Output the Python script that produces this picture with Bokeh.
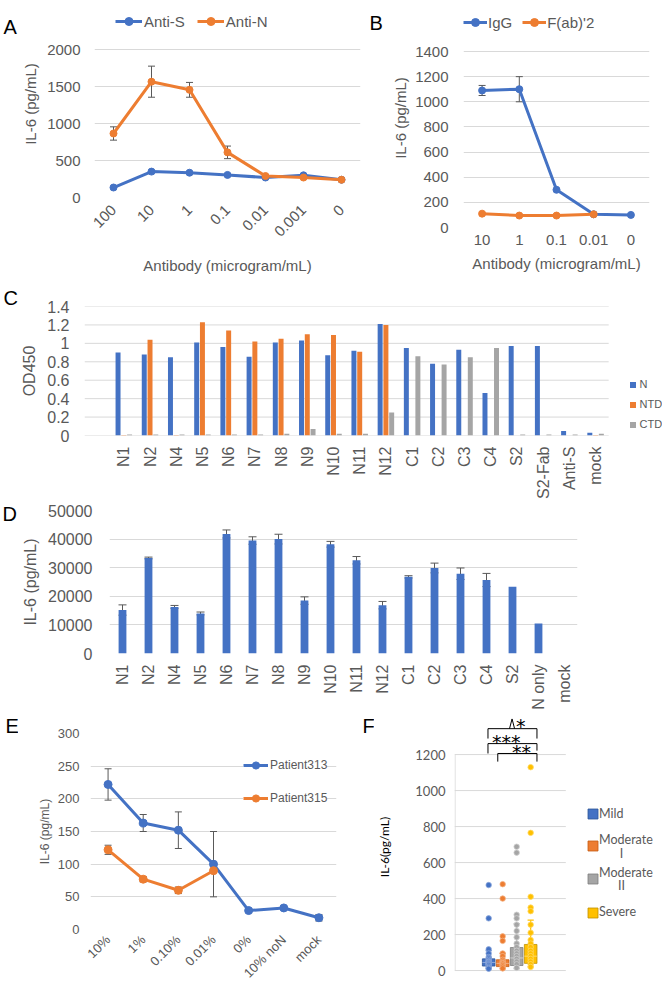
import math
from bokeh.plotting import figure
from bokeh.layouts import column, row
from bokeh.models import (ColumnDataSource, FixedTicker, Range1d, Legend, LegendItem, Label,
                          Whisker, TeeHead, NumeralTickFormatter)
from bokeh.embed import file_html
from bokeh.resources import INLINE

NAN = float("nan")

# ---------------- data ----------------
a_conc = ["100", "10", "1", "0.1", "0.01", "0.001", "0"]
a_anti_s = [135, 350, 335, 305, 270, 300, 240]
a_anti_n = [865, 1565, 1455, 610, 290, 270, 240]
a_anti_n_err = [90, 210, 100, 85, 0, 0, 0]
a_yticks = [0, 500, 1000, 1500, 2000]

b_conc = ["10", "1", "0.1", "0.01", "0"]
b_igg = [1090, 1100, 300, 105, 100]
b_igg_err = [40, 100, 0, 0, 0]
b_fab2 = [110, 95, 95, 105]
b_yticks = [0, 200, 400, 600, 800, 1000, 1200, 1400]

c_samples = ["N1", "N2", "N4", "N5", "N6", "N7", "N8", "N9", "N10", "N11", "N12",
             "C1", "C2", "C3", "C4", "S2", "S2-Fab", "Anti-S", "mock"]
c_n = [0.90, 0.88, 0.85, 1.01, 0.96, 0.855, 1.01, 1.03, 0.87, 0.92, 1.21,
       0.95, 0.78, 0.93, 0.46, 0.97, 0.97, 0.05, 0.03]
c_ntd = [0.005, 1.04, 0.005, 1.23, 1.14, 1.02, 1.05, 1.10, 1.09, 0.91, 1.20,
         0, 0, 0, 0, 0, 0, 0, 0.005]
c_ctd = [0.01, 0.01, 0.01, 0.01, 0.01, 0.01, 0.02, 0.07, 0.02, 0.02, 0.25,
         0.86, 0.77, 0.85, 0.95, 0.01, 0.01, 0.01, 0.02]
c_yticks = [0, 0.2, 0.4, 0.6, 0.8, 1.0, 1.2, 1.4]

d_samples = ["N1", "N2", "N4", "N5", "N6", "N7", "N8", "N9", "N10", "N11", "N12",
             "C1", "C2", "C3", "C4", "S2", "N only", "mock"]
d_il6 = [15200, 33400, 16300, 14000, 41800, 39500, 40000, 18500, 38200, 32600, 16900,
         26800, 29900, 27900, 25700, 23300, 10500, 0]
d_err = [1800, 300, 500, 500, 1400, 1300, 1700, 1300, 1000, 1300, 1300,
         400, 1700, 2000, 2300, 0, 0, 0]
d_yticks = [0, 10000, 20000, 30000, 40000, 50000]

e_conc = ["10%", "1%", "0.10%", "0.01%", "0%", "10% noN", "mock"]
e_p313 = [222, 163, 152, 100, 29, 33, 18]
e_p313_err = [24, 13, 28, 50, 2, 2, 5]
e_p315 = [122, 77, 60, 90]
e_p315_err = [7, 4, 5, 0]
e_yticks = [0, 50, 100, 150, 200, 250, 300]

f_groups = ["Mild", "Moderate I", "Moderate II", "Severe"]
f_q1 = [25, 22, 28, 40]
f_med = [45, 40, 70, 80]
f_q3 = [65, 60, 128, 145]
f_wlo = [10, 10, 10, 20]
f_whi = [110, 95, 260, 280]
f_points = [
    [475, 290, 118, 95, 75, 68, 60, 52, 48, 45, 40, 35, 30, 22, 15, 10],
    [480, 400, 190, 165, 95, 80, 60, 50, 42, 38, 30, 22, 12],
    [688, 655, 310, 290, 255, 220, 185, 150, 130, 110, 95, 80, 65, 50, 35, 15],
    [1130, 765, 410, 350, 330, 255, 210, 170, 150, 130, 110, 95, 80, 65, 50, 35, 20],
]
f_yticks = [0, 200, 400, 600, 800, 1000, 1200]
# significance brackets: (left, right, level, end_left, end_right, stars, star_x, star_level)
f_brackets = [
    (0.95, 4.45, 1344, 1289, 1289, "*", 3.30, 1367),
    (0.95, 4.45, 1261, 1206, 1222, "***", 2.26, 1278),
    (1.65, 4.45, 1206, 1161, 1161, "**", 3.34, 1222),
]
f_brace_x = 2.67
f_brace_top = 1398

# ---------------- style ----------------
TXT = "#595959"
GRID = "#D9D9D9"
BLUE = "#4472C4"
ORANGE = "#ED7D31"
GRAY = "#A5A5A5"
GOLD = "#FFC000"
FONT = "Liberation Sans"


def mkfig(x0, x1, y0, y1, fl, fr, ft, fb, xr, yr):
    p = figure(width=x1 - x0, height=y1 - y0,
               x_range=Range1d(*xr), y_range=Range1d(*yr),
               min_border_left=fl - x0, min_border_right=x1 - fr,
               min_border_top=ft - y0, min_border_bottom=y1 - fb,
               output_backend="svg", toolbar_location=None, tools="")
    p.frame_align = False
    p.outline_line_color = None
    p.xgrid.grid_line_color = None
    p.ygrid.grid_line_color = GRID
    for ax in p.axis:
        ax.axis_line_color = None
        ax.major_tick_line_color = None
        ax.minor_tick_line_color = None
        ax.major_tick_out = 0
        ax.major_tick_in = 0
        ax.minor_tick_out = 0
        ax.minor_tick_in = 0
        ax.axis_label_text_font_style = "normal"
        ax.axis_label_text_color = TXT
        ax.major_label_text_color = TXT
    return p


def letter_fig(txt, w, h, lx, ly):
    p = figure(width=w, height=h, x_range=Range1d(0, w), y_range=Range1d(0, h),
               x_axis_type=None, y_axis_type=None, min_border=0,
               min_border_left=0, min_border_right=0, min_border_top=0, min_border_bottom=0,
               output_backend="svg", toolbar_location=None, tools="")
    p.frame_align = False
    p.outline_line_color = None
    p.add_layout(Label(x=lx, y=h - ly, text=txt, text_font=FONT, text_font_size="20px",
                       text_color="black", text_align="left", text_baseline="middle"))
    return p


def ext_top(top_val, px_top_tick, px_zero, px_frame_top):
    return top_val + (px_top_tick - px_frame_top) * top_val / (px_zero - px_top_tick)


def fonts(p, font, tick_fs, lab_fs):
    for ax in p.axis:
        ax.major_label_text_font = font
        ax.major_label_text_font_size = tick_fs
        ax.axis_label_text_font = font
        ax.axis_label_text_font_size = lab_fs


def yticks(p, ticks, fmt="0"):
    t = FixedTicker(ticks=ticks)
    p.yaxis.ticker = t
    p.ygrid.ticker = t
    p.yaxis.formatter = NumeralTickFormatter(format=fmt)


def manual_grid(p, ticks, x0, x1):
    p.ygrid.grid_line_color = None
    p.segment(x0=[x0] * len(ticks), y0=ticks, x1=[x1] * len(ticks), y1=ticks,
              line_color=GRID, line_width=1, level="underlay")


def xcats(p, names):
    p.xaxis.ticker = FixedTicker(ticks=list(range(len(names))))
    p.xaxis.major_label_overrides = {i: s for i, s in enumerate(names)}


def errbars(p, xs, ys, es, head=7):
    idx = [i for i, e in enumerate(es) if e > 0]
    src = ColumnDataSource(dict(x=[xs[i] for i in idx],
                                lo=[ys[i] - es[i] for i in idx],
                                hi=[ys[i] + es[i] for i in idx]))
    w = Whisker(base="x", lower="lo", upper="hi", source=src, line_color=TXT, line_width=1,
                upper_head=TeeHead(size=head, line_color=TXT, line_width=1),
                lower_head=TeeHead(size=head, line_color=TXT, line_width=1))
    p.add_layout(w)


def legend(p, items, loc, orient, gw, gh, spacing, standoff, fs, font=FONT, bg=None):
    lg = Legend(items=[LegendItem(label=l, renderers=r) for l, r in items],
                location=loc, orientation=orient,
                glyph_width=gw, glyph_height=gh, label_height=gh, label_width=1,
                spacing=spacing, label_standoff=standoff, padding=0, margin=0,
                border_line_color=None, label_text_font=font,
                label_text_font_size=fs, label_text_color=TXT)
    if bg:
        lg.background_fill_color = bg
        lg.background_fill_alpha = 1
    else:
        lg.background_fill_alpha = 0
    p.add_layout(lg, "center")
    return lg


def key_square(p, color, line=None):
    # legend key only (no visible point): square marker like the spreadsheet legend
    return p.scatter([NAN], [NAN], marker="square", fill_color=color,
                     line_color=line, line_width=0.8)


# ---------------- Panel A ----------------
xa = list(range(len(a_conc)))
pA = mkfig(18, 362, 0, 288, 94, 360, 10, 197, (-0.5, len(a_conc) - 0.5),
           (0, ext_top(a_yticks[-1], 49, 197, 10)))
yticks(pA, a_yticks)
xcats(pA, a_conc)
pA.xaxis.major_label_orientation = math.pi / 4
pA.yaxis.axis_label = "IL-6 (pg/mL)"
pA.xaxis.axis_label = "Antibody (microgram/mL)"
fonts(pA, FONT, "15px", "15px")
pA.yaxis.major_label_standoff = 14
pA.yaxis.axis_label_standoff = 5
pA.xaxis.major_label_standoff = 10
pA.xaxis.axis_label_standoff = 13
ls = pA.line(xa, a_anti_s, line_color=BLUE, line_width=3)
ss = pA.scatter(xa, a_anti_s, size=7, fill_color=BLUE, line_color=BLUE)
ln = pA.line(xa, a_anti_n, line_color=ORANGE, line_width=3)
sn = pA.scatter(xa, a_anti_n, size=7, fill_color=ORANGE, line_color=ORANGE)
errbars(pA, xa, a_anti_n, a_anti_n_err)
legend(pA, [("Anti-S", [ls, ss]), ("Anti-N", [ln, sn])],
       (115 - 94, 197 - 31), "horizontal", 27, 20, 12, 2, "15px")
LA = letter_fig("A", 18, 288, 3, 26)

# ---------------- Panel B ----------------
xb = list(range(len(b_conc)))
pB = mkfig(386, 662, 0, 288, 463, 649, 8, 227, (-0.5, len(b_conc) - 0.5),
           (0, ext_top(b_yticks[-1], 51, 227, 8)))
yticks(pB, b_yticks)
xcats(pB, b_conc)
pB.yaxis.axis_label = "IL-6 (pg/mL)"
pB.xaxis.axis_label = "Antibody (microgram/mL)"
fonts(pB, FONT, "15px", "15px")
pB.yaxis.major_label_standoff = 15
pB.yaxis.axis_label_standoff = 3
pB.xaxis.major_label_standoff = 7
pB.xaxis.axis_label_standoff = 7
lg_ = pB.line(xb, b_igg, line_color=BLUE, line_width=3)
sg_ = pB.scatter(xb, b_igg, size=7, fill_color=BLUE, line_color=BLUE)
xf = xb[:len(b_fab2)]
lf_ = pB.line(xf, b_fab2, line_color=ORANGE, line_width=3)
sf_ = pB.scatter(xf, b_fab2, size=7, fill_color=ORANGE, line_color=ORANGE)
errbars(pB, xb, b_igg, b_igg_err)
legend(pB, [("IgG", [lg_, sg_]), ("F(ab)'2", [lf_, sf_])],
       (0, 227 - 32), "horizontal", 24, 20, 10, 1, "15px")
LB = letter_fig("B", 24, 288, 7, 22)

# ---------------- Panel C ----------------
xc = list(range(len(c_samples)))
c_step = (608 - 82) / (len(c_samples) + 1)
c_x0, c_x1 = -1.5, len(c_samples) - 0.5
pC = mkfig(18, 662, 288, 501, 82, 662, 306, 437,
           (c_x0, c_x1 + (662 - 608) / c_step), (0, 1.4))
yticks(pC, c_yticks, fmt="0.[0]")
manual_grid(pC, c_yticks, c_x0, c_x1)
xcats(pC, c_samples)
pC.xaxis.major_label_orientation = math.pi / 2
pC.yaxis.axis_label = "OD450"
fonts(pC, FONT, "16px", "16px")
pC.yaxis.major_label_standoff = 15
pC.yaxis.axis_label_standoff = 6
pC.xaxis.major_label_standoff = 11
bw = 0.19
off = 0.22
pC.vbar(x=[v - off for v in xc], top=c_n, width=bw, fill_color=BLUE, line_color=None)
pC.vbar(x=xc, top=c_ntd, width=bw, fill_color=ORANGE, line_color=None)
pC.vbar(x=[v + off for v in xc], top=c_ctd, width=bw, fill_color=GRAY, line_color=None)
kn = key_square(pC, BLUE)
kt = key_square(pC, ORANGE)
kc = key_square(pC, GRAY)
legend(pC, [("N", [kn]), ("NTD", [kt]), ("CTD", [kc])],
       (622.5 - 82, 437 - 433.5), "vertical", 15, 15, 5, 0, "11px")
LC = letter_fig("C", 18, 213, 3, 9)

# ---------------- Panel D ----------------
xd = list(range(len(d_samples)))
pD = mkfig(18, 662, 501, 716, 109, 577, 510, 653, (-0.5, len(d_samples) - 0.5), (0, 50000))
yticks(pD, d_yticks)
xcats(pD, d_samples)
pD.xaxis.major_label_orientation = math.pi / 2
pD.yaxis.axis_label = "IL-6 (pg/mL)"
fonts(pD, FONT, "16px", "16px")
pD.yaxis.major_label_standoff = 17
pD.yaxis.axis_label_standoff = 6
pD.xaxis.major_label_standoff = 11
pD.vbar(x=xd, top=d_il6, width=0.3, fill_color=BLUE, line_color=None)
errbars(pD, xd, d_il6, d_err, head=8)
LD = letter_fig("D", 18, 215, 2, 12)

# ---------------- Panel E ----------------
xe = list(range(len(e_conc)))
pE = mkfig(18, 355, 716, 992, 90, 336, 733, 929, (-0.5, len(e_conc) - 0.5), (0, 300))
yticks(pE, e_yticks)
xcats(pE, e_conc)
pE.xaxis.major_label_orientation = math.pi / 4
pE.yaxis.axis_label = "IL-6 (pg/mL)"
fonts(pE, FONT, "13px", "12px")
pE.yaxis.major_label_standoff = 11
pE.yaxis.axis_label_standoff = 3
pE.xaxis.major_label_standoff = 8
l13 = pE.line(xe, e_p313, line_color=BLUE, line_width=3)
s13 = pE.scatter(xe, e_p313, size=8, fill_color=BLUE, line_color=BLUE)
x15 = xe[:len(e_p315)]
l15 = pE.line(x15, e_p315, line_color=ORANGE, line_width=3)
s15 = pE.scatter(x15, e_p315, size=8, fill_color=ORANGE, line_color=ORANGE)
errbars(pE, xe, e_p313, e_p313_err)
errbars(pE, x15, e_p315, e_p315_err)
legend(pE, [("Patient313", [l13, s13]), ("Patient315", [l15, s15])],
       (243 - 90, 929 - 807), "vertical", 25, 18, 15, 2, "12px", bg="white")
LE = letter_fig("E", 18, 276, 5, 9)

# ---------------- Panel F ----------------
F_PX = 14.33            # pixels per category step in the reference
F_C1 = 484              # reference x of the first box


def fxd(px):
    return 1 + (px - F_C1) / F_PX


FX0 = fxd(449)
FX1 = fxd(563)
pF = mkfig(374, 662, 716, 992, 449, 662, 717, 976, (FX0, fxd(662)), (-33, 1406))
yticks(pF, f_yticks)
manual_grid(pF, f_yticks, FX0, FX1)
pF.xaxis.visible = False
pF.yaxis.axis_label = "IL-6(pg/mL)"
fonts(pF, "Lato", "13px", "12px")
pF.yaxis.axis_label_text_color = "black"
pF.yaxis.major_label_standoff = 9
pF.yaxis.axis_label_standoff = 20
pF.segment(x0=[FX0 + 0.04], y0=[f_yticks[0]], x1=[FX0 + 0.04], y1=[f_yticks[-1]],
           line_color=GRID, line_width=1)
fcols = [BLUE, ORANGE, GRAY, GOLD]
fdark = ["#2F5597", "#C55A11", "#7F7F7F", "#BF9000"]
flight = ["#8FAADC", "#F4B183", "#D0D0D0", "#FFD966"]
keys = []
for k in range(len(f_groups)):
    xk = k + 1
    pF.segment(x0=[xk, xk], y0=[f_q3[k], f_q1[k]], x1=[xk, xk], y1=[f_whi[k], f_wlo[k]],
               line_color=fcols[k], line_width=1.2)
    pF.segment(x0=[xk - 0.22, xk - 0.22], y0=[f_whi[k], f_wlo[k]],
               x1=[xk + 0.22, xk + 0.22], y1=[f_whi[k], f_wlo[k]],
               line_color=fcols[k], line_width=1.2)
    pF.vbar(x=[xk], top=[f_q3[k]], bottom=[f_q1[k]], width=0.9,
            fill_color=fcols[k], line_color=fdark[k], line_width=0.8)
    pF.segment(x0=[xk - 0.45], y0=[f_med[k]], x1=[xk + 0.45], y1=[f_med[k]],
               line_color=flight[k], line_width=1)
    pts = f_points[k]
    pF.scatter([xk] * len(pts), pts, size=5.5, fill_color=fcols[k], line_color=flight[k],
               line_width=0.8)
    keys.append(key_square(pF, fcols[k], fdark[k]))
# one legend key per group, each placed at the reference height of its entry
f_key_px = [813, 845, 878, 912]
for k in range(len(f_groups)):
    legend(pF, [(" ", [keys[k]])], (574.5 - 449, 976 - (f_key_px[k] + 12.5)),
           "vertical", 25, 25, 0, 0, "12px", font="Lato")
f_leg_lines = [("Mild", 872, "left", 597), ("Moderate", 728, "left", 597), ("I", 650, "center", 620),
               ("Moderate", 544, "left", 597), ("II", 472, "center", 620), ("Severe", 328, "left", 597)]
for txt, yv, al, xref in f_leg_lines:
    pF.add_layout(Label(x=fxd(xref), y=yv, text=txt, text_font="Lato",
                        text_font_size="12.5px", text_color=TXT, text_align=al,
                        text_baseline="middle"))
for (xl, xr, lev, endl, endr, stars, sx_, sl) in f_brackets:
    pF.multi_line(xs=[[xl, xl, xr, xr]], ys=[[endl, lev, lev, endr]], line_color="black", line_width=1)
    pF.add_layout(Label(x=sx_, y=sl, y_offset=-1, text=stars, text_font="DejaVu Sans",
                        text_font_size="19px", text_color="#000000", text_align="center",
                        text_baseline="middle"))
top_lev = f_brackets[0][2]
pF.multi_line(xs=[[f_brace_x - 0.18, f_brace_x, f_brace_x + 0.18]],
              ys=[[top_lev, f_brace_top, top_lev]], line_color="black", line_width=1)
LF = letter_fig("F", 19, 276, 7, 9)

layout = column(row(LA, pA, LB, pB), row(LC, pC), row(LD, pD), row(LE, pE, LF, pF))
open("out.html", "w").write(file_html(layout, INLINE))
